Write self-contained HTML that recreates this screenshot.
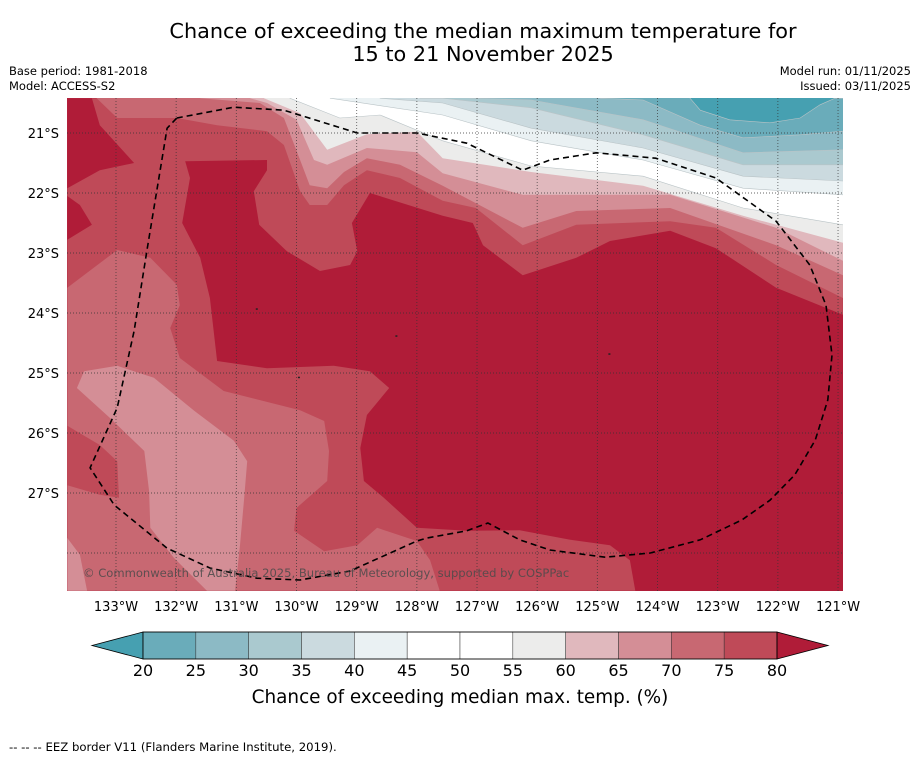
<!DOCTYPE html>
<html><head><meta charset="utf-8"><style>
html,body{margin:0;padding:0;background:#fff;}
svg{display:block;font-family:"DejaVu Sans","Liberation Sans",sans-serif;}
</style></head><body>
<svg id="chart" width="919" height="758" viewBox="0 0 919 758" xmlns="http://www.w3.org/2000/svg">
<text x="483" y="38" font-size="20.8" text-anchor="middle">Chance of exceeding the median maximum temperature for</text>
<text x="483" y="61" font-size="20.8" text-anchor="middle">15 to 21 November 2025</text>
<text x="9" y="75" font-size="11.5">Base period: 1981-2018</text>
<text x="9" y="90" font-size="11.5">Model: ACCESS-S2</text>
<text x="911" y="75" font-size="11.5" text-anchor="end">Model run: 01/11/2025</text>
<text x="911" y="90" font-size="11.5" text-anchor="end">Issued: 03/11/2025</text>
<defs><clipPath id="mapclip"><rect x="67" y="98" width="776" height="493"/></clipPath></defs>
<g id="map" clip-path="url(#mapclip)"></g>
<g id="axes"></g>
<g id="cbar"></g>
<text x="460" y="703" font-size="18.4" text-anchor="middle">Chance of exceeding median max. temp. (%)</text>
<text x="9" y="751" font-size="11.7">--  --  -- EEZ border V11 (Flanders Marine Institute, 2019).</text>
</svg>
<script>
const binLevels = [20,25,30,35,40,45,50,55,60,65,70,75,80];
const binColors = ['#46a0b1','#6aacba','#8cbac5','#aac9cf','#cbdadf','#eaf1f3','#ffffff','#ffffff','#ececeb','#e0b8bd','#d48e96','#c86872','#bf4a58','#b01c38'];
const lonTicks = [-133,-132,-131,-130,-129,-128,-127,-126,-125,-124,-123,-122,-121];
const latTicks = [-21,-22,-23,-24,-25,-26,-27];
const latGrid = [-21,-22,-23,-24,-25,-26,-27,-28];
const westRegion = [[-133.81,-20.42],[-120.92,-20.42],[-120.92,-24.03],[-122.03,-23.58],[-123.03,-22.92],[-123.79,-22.63],[-124.79,-22.80],[-125.35,-23.08],[-126.24,-23.37],[-126.90,-22.87],[-127.07,-22.50],[-127.57,-22.38],[-128.78,-22.00],[-129.08,-22.50],[-128.99,-22.97],[-129.11,-23.20],[-129.61,-23.30],[-130.16,-22.97],[-130.62,-22.53],[-130.71,-21.97],[-130.49,-21.62],[-130.49,-21.45],[-131.85,-21.47],[-131.77,-21.75],[-131.90,-22.50],[-131.60,-23.08],[-131.44,-23.75],[-131.32,-24.80],[-130.49,-24.92],[-129.38,-24.88],[-128.78,-24.97],[-128.46,-25.25],[-128.83,-25.70],[-128.94,-26.25],[-128.88,-26.80],[-128.55,-27.08],[-128.00,-27.58],[-127.17,-27.63],[-126.29,-27.62],[-125.45,-27.78],[-124.79,-27.87],[-124.46,-28.12],[-124.37,-28.63],[-133.81,-28.63]];
const c75 = [[-133.32,-20.42],[-132.98,-20.75],[-131.99,-20.75],[-131.32,-20.87],[-130.49,-20.97],[-130.21,-21.20],[-129.94,-21.97],[-129.78,-22.20],[-129.49,-22.20],[-129.21,-21.87],[-128.83,-21.62],[-128.28,-21.75],[-127.57,-22.13],[-127.02,-22.25],[-126.24,-22.87],[-125.35,-22.53],[-123.79,-22.47],[-123.03,-22.58],[-122.03,-23.20],[-120.92,-23.75]];
const c70 = [[-131.60,-20.42],[-130.61,-20.50],[-130.21,-20.75],[-129.94,-21.45],[-129.78,-21.87],[-129.49,-21.92],[-129.21,-21.65],[-128.83,-21.42],[-128.28,-21.53],[-127.57,-21.88],[-126.24,-22.58],[-125.35,-22.30],[-123.79,-22.25],[-122.03,-22.87],[-120.92,-23.37]];
const c65 = [[-130.77,-20.42],[-130.49,-20.50],[-130.00,-20.78],[-129.71,-21.45],[-129.49,-21.53],[-128.83,-21.25],[-128.00,-21.32],[-127.57,-21.67],[-126.24,-22.03],[-125.35,-22.03],[-123.79,-22.03],[-122.03,-22.58],[-120.92,-23.13]];
const c60 = [[-130.54,-20.42],[-129.94,-20.67],[-129.49,-21.28],[-128.83,-21.02],[-128.00,-20.98],[-127.57,-21.42],[-126.10,-21.65],[-124.24,-21.88],[-122.58,-22.38],[-120.92,-22.83]];
const c55 = [[-130.11,-20.42],[-129.28,-20.75],[-128.61,-20.70],[-127.57,-21.13],[-126.10,-21.55],[-124.24,-21.72],[-122.58,-22.25],[-120.92,-22.53]];
const c45 = [[-129.44,-20.42],[-127.57,-20.70],[-126.10,-21.13],[-124.24,-21.45],[-122.58,-21.92],[-120.92,-22.03]];
const c40 = [[-128.61,-20.42],[-127.57,-20.50],[-126.10,-20.92],[-124.24,-21.25],[-122.58,-21.72],[-120.92,-21.80]];
const c35 = [[-127.95,-20.42],[-127.57,-20.42],[-126.10,-20.58],[-124.24,-21.03],[-122.58,-21.53],[-120.92,-21.53]];
const c30 = [[-127.12,-20.42],[-126.10,-20.45],[-124.24,-20.78],[-122.58,-21.33],[-120.92,-21.28]];
const c25 = [[-124.96,-20.42],[-124.24,-20.45],[-123.29,-20.87],[-122.58,-21.08],[-121.63,-21.03],[-120.92,-20.97]];
const c20 = [[-123.46,-20.42],[-123.29,-20.62],[-122.80,-20.78],[-122.13,-20.83],[-121.63,-20.75],[-121.30,-20.53],[-121.05,-20.42]];
const darkTopLeft = [[-133.81,-20.42],[-133.40,-20.42],[-133.27,-20.87],[-132.70,-21.50],[-133.27,-21.62],[-133.81,-21.92]];
const darkLeft = [[-133.81,-22.05],[-133.60,-22.20],[-133.40,-22.53],[-133.81,-22.78]];
const sw70 = [[-133.81,-23.58],[-132.98,-22.95],[-132.43,-23.08],[-131.99,-23.53],[-131.94,-23.87],[-132.10,-24.25],[-131.94,-24.75],[-131.21,-25.30],[-129.94,-25.62],[-129.54,-25.80],[-129.46,-26.30],[-129.49,-26.80],[-130.00,-27.25],[-130.04,-27.63],[-129.54,-27.97],[-128.99,-27.87],[-128.66,-27.58],[-128.00,-27.80],[-127.78,-28.12],[-127.62,-28.63],[-133.81,-28.63]];
const left75 = [[-133.81,-25.88],[-133.27,-26.20],[-132.98,-26.47],[-132.95,-27.08],[-133.27,-27.03],[-133.81,-26.87]];
const sw65 = [[-133.65,-25.25],[-133.53,-24.97],[-132.98,-24.88],[-132.37,-25.08],[-131.70,-25.63],[-131.04,-26.13],[-130.82,-26.47],[-130.87,-27.08],[-130.94,-27.87],[-131.02,-28.63],[-131.49,-28.63],[-132.04,-28.08],[-132.43,-27.58],[-132.45,-26.97],[-132.53,-26.30],[-133.10,-25.75]];
const bl65 = [[-133.81,-27.75],[-133.60,-28.03],[-133.48,-28.63],[-133.81,-28.63]];
const eezBorder = [[-131.99,-20.75],[-131.04,-20.57],[-130.21,-20.62],[-128.99,-21.00],[-128.00,-21.00],[-127.17,-21.17],[-126.24,-21.62],[-125.79,-21.45],[-125.02,-21.33],[-124.03,-21.42],[-123.03,-21.75],[-122.03,-22.47],[-121.47,-23.20],[-121.20,-23.87],[-121.10,-24.70],[-121.17,-25.45],[-121.38,-26.12],[-121.72,-26.70],[-122.13,-27.12],[-122.60,-27.45],[-123.29,-27.78],[-124.12,-28.00],[-124.87,-28.07],[-125.79,-27.95],[-126.29,-27.78],[-126.82,-27.50],[-127.17,-27.63],[-127.83,-27.75],[-128.00,-27.80],[-129.11,-28.30],[-129.94,-28.45],[-130.66,-28.42],[-131.44,-28.25],[-132.15,-27.92],[-133.03,-27.20],[-133.43,-26.58],[-132.98,-25.58],[-132.70,-24.30],[-132.48,-22.92],[-132.15,-20.92],[-131.99,-20.75]];
const islands = [[-130.66,-23.93],[-128.34,-24.38],[-129.96,-25.07],[-124.80,-24.68]];

const NS = 'http://www.w3.org/2000/svg';
const MAP_L = 67, MAP_R = 843, MAP_T = 98, MAP_B = 591;
function x(lon){ return 116 + (lon + 133) * 60.17; }
function y(lat){ return 133 + (-21 - lat) * 60; }
function mk(tag, attrs, parent){ const e = document.createElementNS(NS, tag); for (const k in attrs) e.setAttribute(k, attrs[k]); parent.appendChild(e); return e; }
function pts(arr){ return arr.map(p => x(p[0]).toFixed(1) + ',' + y(p[1]).toFixed(1)).join(' '); }

const map = document.getElementById('map');
const bg = mk('rect', {x: MAP_L, y: MAP_T, width: MAP_R - MAP_L, height: MAP_B - MAP_T, fill: binColors[13]}, map);


function region(arr, bin, name, stroke){
  const p = mk('polygon', {points: pts(arr), fill: binColors[bin]}, map);
  if (stroke) { p.setAttribute('stroke', '#b9c3c6'); p.setAttribute('stroke-width', '0.6'); }
  
  
  return p;
}
function band(curve, bin, name, stroke){
  const arr = curve.concat([[-120.5, curve[curve.length-1][1]], [-120.5, -20.3], [curve[0][0], -20.3]]);
  return region(arr, bin, name, stroke);
}
region(westRegion, 12, 'region-75-80', false);
band(c75, 11, 'band-70-75', false);
band(c70, 10, 'band-65-70', false);
band(c65, 9, 'band-60-65', false);
band(c60, 8, 'band-55-60', false);
band(c55, 7, 'band-50-55', true);
band(c45, 5, 'band-40-45', true);
band(c40, 4, 'band-35-40', true);
band(c35, 3, 'band-30-35', true);
band(c30, 2, 'band-25-30', true);
band(c25, 1, 'band-20-25', true);
band(c20, 0, 'band-below-20', true);
region(darkTopLeft, 13, 'region-top-left-above-80', false);
region(darkLeft, 13, 'region-left-above-80', false);
region(sw70, 11, 'region-southwest-70-75', false);
region(left75, 12, 'region-left-75-80', false);
region(sw65, 10, 'region-southwest-65-70', false);
region(bl65, 10, 'region-bottom-left-65-70', false);

islands.forEach(p => {
  const d = mk('rect', {x: x(p[0]) - 1, y: y(p[1]) - 0.5, width: 2, height: 1.5, fill: '#222'}, map);
  
  
});

lonTicks.forEach(l => {
  const g = mk('line', {x1: x(l), x2: x(l), y1: MAP_T, y2: MAP_B, stroke: '#333', 'stroke-width': 0.9, 'stroke-dasharray': '1,2', opacity: 0.75}, map);
  
  
});
latGrid.forEach(l => {
  const g = mk('line', {x1: MAP_L, x2: MAP_R, y1: y(l), y2: y(l), stroke: '#333', 'stroke-width': 0.9, 'stroke-dasharray': '1,2', opacity: 0.75}, map);
  
  
});

const eez = mk('polyline', {points: pts(eezBorder), fill: 'none', stroke: '#000', 'stroke-width': 1.6, 'stroke-dasharray': '6,4'}, map);



const cr = mk('text', {x: 83, y: 577, 'font-size': 11.55, fill: '#4a4a4a', 'fill-opacity': 0.85}, map);
cr.textContent = '\u00a9 Commonwealth of Australia 2025, Bureau of Meteorology, supported by COSPPac';



const axes = document.getElementById('axes');
lonTicks.forEach(l => {
  const t = mk('text', {x: x(l), y: 611, 'font-size': 13, 'text-anchor': 'middle'}, axes);
  t.textContent = Math.abs(l) + '\u00b0W';
  
  
});
latTicks.forEach(l => {
  const t = mk('text', {x: 59, y: y(l) + 5, 'font-size': 13, 'text-anchor': 'end'}, axes);
  t.textContent = Math.abs(l) + '\u00b0S';
  
  
});

const cb = document.getElementById('cbar');
const CB_L = 143, CB_R = 777, CB_T = 632, CB_H = 27;
const bw = (CB_R - CB_L) / (binLevels.length - 1);
function cx(v){ return CB_L + (v - binLevels[0]) / 5 * bw; }
const lt = mk('polygon', {points: `92,${CB_T+CB_H/2} ${CB_L},${CB_T} ${CB_L},${CB_T+CB_H}`, fill: binColors[0], stroke: '#000', 'stroke-width': 0.8}, cb);


for (let i = 0; i < binLevels.length - 1; i++) {
  const r = mk('rect', {x: cx(binLevels[i]), y: CB_T, width: bw, height: CB_H, fill: binColors[i+1], stroke: '#333', 'stroke-width': 0.5}, cb);
  
  
}
const rt = mk('polygon', {points: `${CB_R},${CB_T} 828,${CB_T+CB_H/2} ${CB_R},${CB_T+CB_H}`, fill: binColors[13], stroke: '#000', 'stroke-width': 0.8}, cb);


const ob = mk('rect', {x: CB_L, y: CB_T, width: CB_R - CB_L, height: CB_H, fill: 'none', stroke: '#000', 'stroke-width': 0.8}, cb);


binLevels.forEach(v => {
  const t = mk('text', {x: cx(v), y: 676, 'font-size': 16, 'text-anchor': 'middle'}, cb);
  t.textContent = v;
  
  
});
</script>
</body></html>
